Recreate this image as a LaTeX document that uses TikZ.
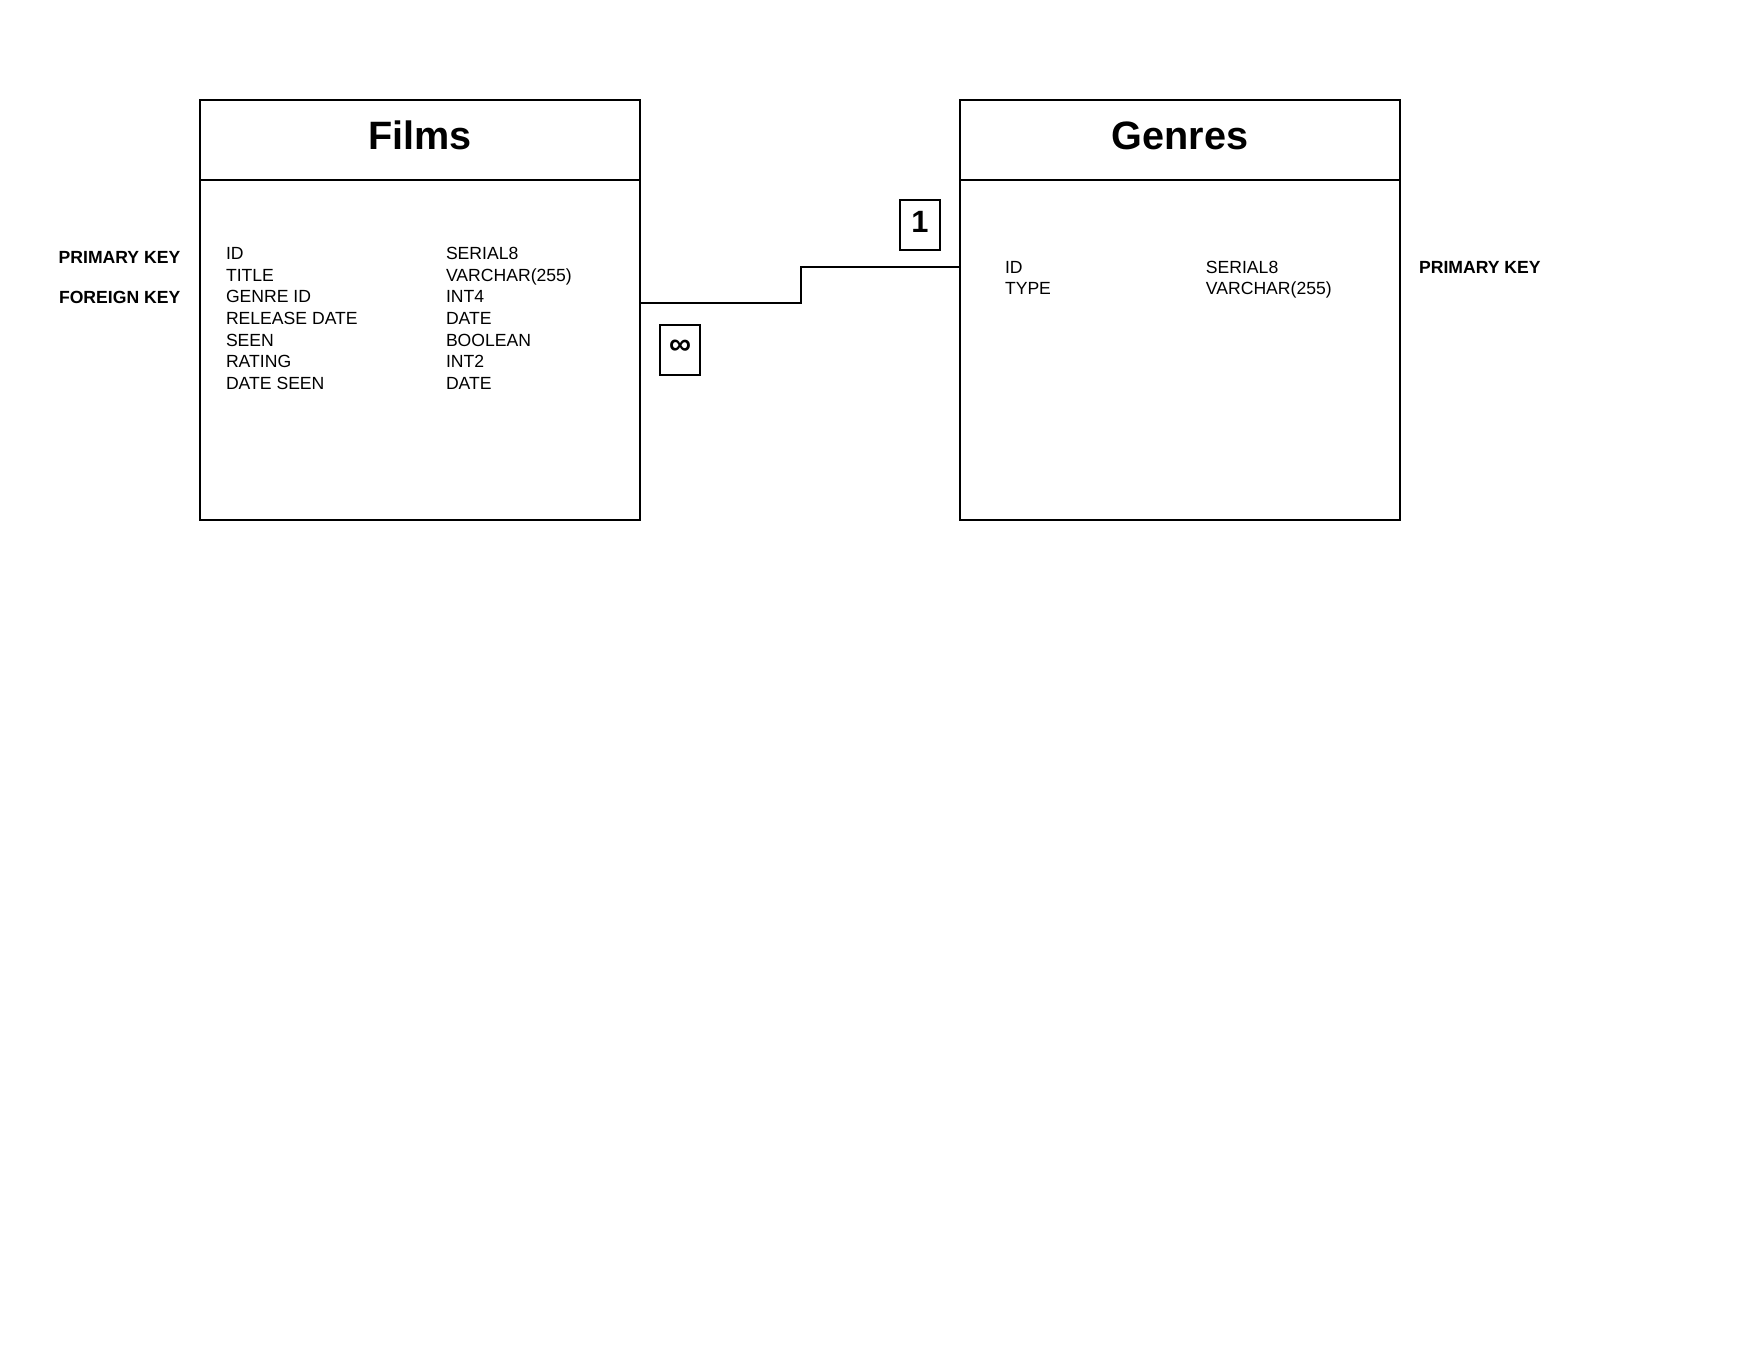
\documentclass[tikz,border=0pt]{standalone}
\usepackage{fontspec}
\setmainfont{Liberation Sans}
\begin{document}
\begin{tikzpicture}[x=0.5pt,y=-0.5pt,
  tablebox/.style={draw, line width=1pt, inner sep=0pt, outer sep=0pt, minimum width=220pt, minimum height=210pt, anchor=north west},
  divider/.style={line width=1pt},
  conn/.style={line width=1pt},
  cardbox/.style={draw, line width=1pt, inner sep=0pt, outer sep=0pt, minimum width=20pt, minimum height=25pt},
  titletext/.style={font=\fontsize{19.8pt}{23pt}\selectfont\bfseries, inner sep=0pt, anchor=base},
  fieldtext/.style={font=\fontsize{8.8pt}{10.8pt}\selectfont, inner sep=0pt, anchor=base west},
  keytext/.style={font=\fontsize{8.8pt}{10.8pt}\selectfont\bfseries, inner sep=0pt},
  cardtext/.style={font=\fontsize{15.4pt}{18pt}\selectfont\bfseries, inner sep=0pt}
]
\useasboundingbox (0,0) rectangle (1760,1360);
\fill[white] (0,0) rectangle (1760,1360);

% Tables
\node[tablebox] (films) at (200,100) {};
\node[tablebox] (genres) at (960,100) {};
\draw[divider] (films.west |- 0,180) -- (films.east |- 0,180);
\draw[divider] (genres.west |- 0,180) -- (genres.east |- 0,180);

\node[titletext] (filmstitle) at (420,149) {Films};
\node[titletext] (genrestitle) at (1180,149) {Genres};

% Films fields
\node[fieldtext] (f1) at (225.6,259.6) {ID};
\node[fieldtext] (f2) at (225.6,281.3) {TITLE};
\node[fieldtext] (f3) at (225.6,302.9) {GENRE ID};
\node[fieldtext] (f4) at (225.6,324.6) {RELEASE DATE};
\node[fieldtext] (f5) at (225.6,346.3) {SEEN};
\node[fieldtext] (f6) at (225.6,367.9) {RATING};
\node[fieldtext] (f7) at (225.6,389.6) {DATE SEEN};
\node[fieldtext] (t1) at (445.6,259.6) {SERIAL8};
\node[fieldtext] (t2) at (445.6,281.3) {VARCHAR(255)};
\node[fieldtext] (t3) at (445.6,302.9) {INT4};
\node[fieldtext] (t4) at (445.6,324.6) {DATE};
\node[fieldtext] (t5) at (445.6,346.3) {BOOLEAN};
\node[fieldtext] (t6) at (445.6,367.9) {INT2};
\node[fieldtext] (t7) at (445.6,389.6) {DATE};

% Genres fields
\node[fieldtext] (g1) at (1004.6,273) {ID};
\node[fieldtext] (g2) at (1004.6,294.6) {TYPE};
\node[fieldtext] (gt1) at (1205.5,273) {SERIAL8};
\node[fieldtext] (gt2) at (1205.5,294.6) {VARCHAR(255)};

% Key labels
\node[keytext, anchor=base east] (pk1) at (180.7,263.8) {PRIMARY KEY};
\node[keytext, anchor=base east] (fk1) at (180.7,303.8) {FOREIGN KEY};
\node[keytext, anchor=base west] (pk2) at (1418.7,273.2) {PRIMARY KEY};

% Connector
\coordinate (step) at (801,266.7);
\draw[conn] (films.east |- 0,303.3) -| (step) -- (genres.west |- step);

% Cardinality boxes
\node[cardbox] (cardmany) at (680,350) {};
\node[cardtext] (manytext) at (680,347) {∞};
\node[cardbox] (cardone) at (920,225) {};
\node[cardtext, anchor=base] (onetext) at (920,232) {1};
\end{tikzpicture}
\end{document}
